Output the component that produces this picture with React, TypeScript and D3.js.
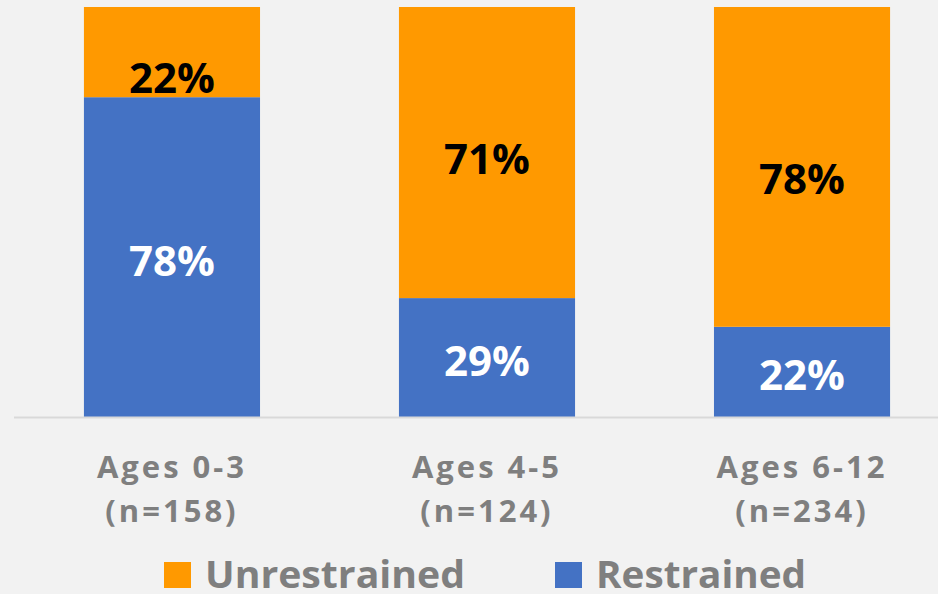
import React, { useEffect, useRef } from 'react'
import * as d3 from 'd3'

// chart values
const ageGroups = ['Ages 0-3', 'Ages 4-5', 'Ages 6-12']
const sampleSizes = ['(n=158)', '(n=124)', '(n=234)']
const restrained = [0.78, 0.29, 0.22]
const unrestrained = [0.22, 0.71, 0.78]
const seriesNames = ['Unrestrained', 'Restrained']

const WIDTH = 938
const HEIGHT = 594
const ORANGE = '#ff9900'
const BLUE = '#4472c4'
const GRAY = '#7f7f7f'
// the top labels sit a bit lower than the segment middle in the original
const topLabelShift = [22, 3, 9]

function App() {
    const node = useRef<SVGSVGElement | null>(null)

    useEffect(() => {
        document.body.style.margin = '0'
        document.body.style.background = '#f2f2f2'

        const vis = d3.select(node.current)
        vis.selectAll('*').remove()

        const x = d3.scaleBand<string>()
            .domain(ageGroups)
            .range([14, 960])
            .paddingInner(0.441)
            .paddingOuter(0.222)
        const y = d3.scaleLinear().domain([0, 1]).range([417, 7])

        const rows = ageGroups.map((g, i) => ({
            group: g,
            Restrained: restrained[i],
            Unrestrained: unrestrained[i],
        }))
        const stack = d3.stack<any>().keys(['Restrained', 'Unrestrained'])(rows)
        const colors: Record<string, string> = { Restrained: BLUE, Unrestrained: ORANGE }
        const labelColors: Record<string, string> = { Restrained: '#ffffff', Unrestrained: '#000000' }

        vis.append('rect')
            .attr('width', WIDTH)
            .attr('height', HEIGHT)
            .attr('fill', '#f2f2f2')

        stack.forEach(layer => {
            const g = vis.append('g')
            g.selectAll('rect')
                .data(layer)
                .enter()
                .append('rect')
                .attr('x', (d: any) => x(d.data.group)!)
                .attr('width', x.bandwidth())
                .attr('y', d => y(d[1]))
                .attr('height', d => y(d[0]) - y(d[1]))
                .attr('fill', colors[layer.key])

            g.selectAll('text')
                .data(layer)
                .enter()
                .append('text')
                .attr('x', (d: any) => x(d.data.group)! + x.bandwidth() / 2)
                .attr('y', (d, i) => (y(d[0]) + y(d[1])) / 2 + 2 + (layer.key === 'Unrestrained' ? topLabelShift[i] : 0))
                .attr('text-anchor', 'middle')
                .attr('dominant-baseline', 'central')
                .style('font-family', '"Open Sans", sans-serif')
                .style('font-weight', 'bold')
                .style('font-size', '42px')
                .attr('fill', labelColors[layer.key])
                .text(d => d3.format('.0%')(d[1] - d[0]))
        })

        // baseline
        vis.append('line')
            .attr('x1', 14)
            .attr('x2', 960)
            .attr('y1', y(0) + 0.5)
            .attr('y2', y(0) + 0.5)
            .attr('stroke', '#d9d9d9')
            .attr('stroke-width', 2)

        // category labels
        const cats = vis.append('g')
        ageGroups.forEach((g, i) => {
            const cx = x(g)! + x.bandwidth() / 2
            const t = cats.append('text')
                .attr('text-anchor', 'middle')
                .style('font-family', '"Open Sans", sans-serif')
                .style('font-weight', 'bold')
                .style('font-size', '31px')
                .style('letter-spacing', '3px')
                .attr('fill', GRAY)
            t.append('tspan').attr('x', cx).attr('y', 478).text(g)
            t.append('tspan').attr('x', cx).attr('y', 522).text(sampleSizes[i])
        })

        // legend
        const legendX = [164, 555]
        const legendW = [260, 210]
        const legend = vis.append('g')
        seriesNames.forEach((name, i) => {
            legend.append('rect')
                .attr('x', legendX[i])
                .attr('y', 562)
                .attr('width', 27)
                .attr('height', 26)
                .attr('fill', colors[name])
            legend.append('text')
                .attr('x', legendX[i] + 41)
                .attr('y', 588)
                .attr('textLength', legendW[i])
                .attr('lengthAdjust', 'spacingAndGlyphs')
                .style('font-family', '"Open Sans", sans-serif')
                .style('font-weight', 'bold')
                .style('font-size', '37px')
                .attr('fill', GRAY)
                .text(name)
        })
    }, [])

    return <svg ref={node} width={WIDTH} height={HEIGHT} style={{ display: 'block' }}></svg>
}

export default App
